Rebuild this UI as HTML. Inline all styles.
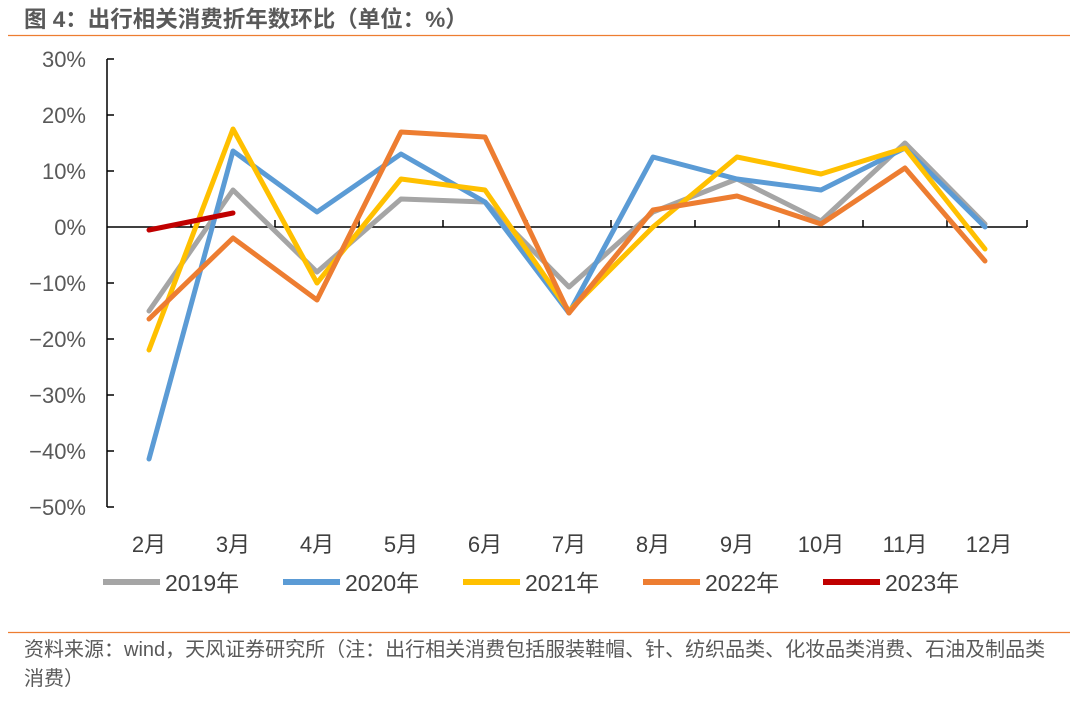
<!DOCTYPE html>
<html><head><meta charset="utf-8"><style>
body{margin:0;background:#fff;width:1080px;height:706px;overflow:hidden;font-family:"Liberation Sans","Noto Sans CJK SC",sans-serif}
</style></head><body>
<svg width="1080" height="706" xmlns="http://www.w3.org/2000/svg" font-family="Liberation Sans, Noto Sans CJK SC, sans-serif">
<text x="24" y="27" font-size="22.5" font-weight="bold" fill="#595959">图 4：出行相关消费折年数环比（单位：%）</text>
<line x1="8" y1="35.5" x2="1070" y2="35.5" stroke="#ed7d31" stroke-width="1.2"/>
<g fill="#595959" font-size="22" text-anchor="end">
<text x="86" y="67">30%</text><text x="86" y="123">20%</text><text x="86" y="179">10%</text><text x="86" y="235">0%</text>
<text x="86" y="291">−10%</text><text x="86" y="347">−20%</text><text x="86" y="403">−30%</text><text x="86" y="459">−40%</text><text x="86" y="515">−50%</text>
</g>
<g stroke="#000" stroke-width="1.5">
<line x1="107" y1="59" x2="107" y2="507"/>
<line x1="107" y1="59" x2="114" y2="59"/><line x1="107" y1="115" x2="114" y2="115"/><line x1="107" y1="171" x2="114" y2="171"/>
<line x1="107" y1="283" x2="114" y2="283"/><line x1="107" y1="339" x2="114" y2="339"/><line x1="107" y1="395" x2="114" y2="395"/>
<line x1="107" y1="451" x2="114" y2="451"/><line x1="107" y1="507" x2="114" y2="507"/>
<line x1="107" y1="227" x2="1027" y2="227"/>
<line x1="191" y1="220" x2="191" y2="227"/><line x1="275" y1="220" x2="275" y2="227"/><line x1="359" y1="220" x2="359" y2="227"/><line x1="443" y1="220" x2="443" y2="227"/><line x1="527" y1="220" x2="527" y2="227"/><line x1="611" y1="220" x2="611" y2="227"/><line x1="695" y1="220" x2="695" y2="227"/><line x1="779" y1="220" x2="779" y2="227"/><line x1="863" y1="220" x2="863" y2="227"/><line x1="947" y1="220" x2="947" y2="227"/><line x1="1027" y1="220" x2="1027" y2="227"/>
</g>
<g fill="#404040" font-size="22" text-anchor="middle">
<text x="149" y="552">2月</text><text x="233" y="552">3月</text><text x="317" y="552">4月</text><text x="401" y="552">5月</text><text x="485" y="552">6月</text><text x="569" y="552">7月</text><text x="653" y="552">8月</text><text x="737" y="552">9月</text><text x="821" y="552">10月</text><text x="905" y="552">11月</text><text x="989" y="552">12月</text>
</g>
<g fill="none" stroke-width="5" stroke-linejoin="round" stroke-linecap="round">
<polyline stroke="#a5a5a5" points="149,311 233,190 317,272 401,199 485,202 569,287 653,212 737,179 821,221 905,143 985,224"/>
<polyline stroke="#5b9bd5" points="149,459 233,151 317,212 401,154 485,202 569,313 653,157 737,179 821,190 905,148 985,227"/>
<polyline stroke="#ffc000" points="149,350 233,129 317,283 401,179 485,190 569,311 653,227 737,157 821,174 905,148 985,249"/>
<polyline stroke="#ed7d31" points="149,319 233,238 317,300 401,132 485,137 569,313 653,210 737,196 821,224 905,168 985,261"/>
<polyline stroke="#c00000" points="149,230 233,213"/>
</g>
<g stroke-width="6">
<line x1="103" y1="582" x2="160" y2="582" stroke="#a5a5a5"/>
<line x1="283" y1="582" x2="340" y2="582" stroke="#5b9bd5"/>
<line x1="463" y1="582" x2="520" y2="582" stroke="#ffc000"/>
<line x1="643" y1="582" x2="700" y2="582" stroke="#ed7d31"/>
<line x1="823" y1="582" x2="880" y2="582" stroke="#c00000"/>
</g>
<g fill="#404040" font-size="23">
<text x="165" y="591">2019年</text><text x="345" y="591">2020年</text><text x="525" y="591">2021年</text><text x="705" y="591">2022年</text><text x="885" y="591">2023年</text>
</g>
<line x1="8" y1="632.5" x2="1070" y2="632.5" stroke="#ed7d31" stroke-width="1.2"/>
<g fill="#595959" font-size="20">
<text x="24" y="656">资料来源：wind，天风证券研究所（注：出行相关消费包括服装鞋帽、针、纺织品类、化妆品类消费、石油及制品类</text>
<text x="24" y="685">消费）</text>
</g>
</svg>
</body></html>
